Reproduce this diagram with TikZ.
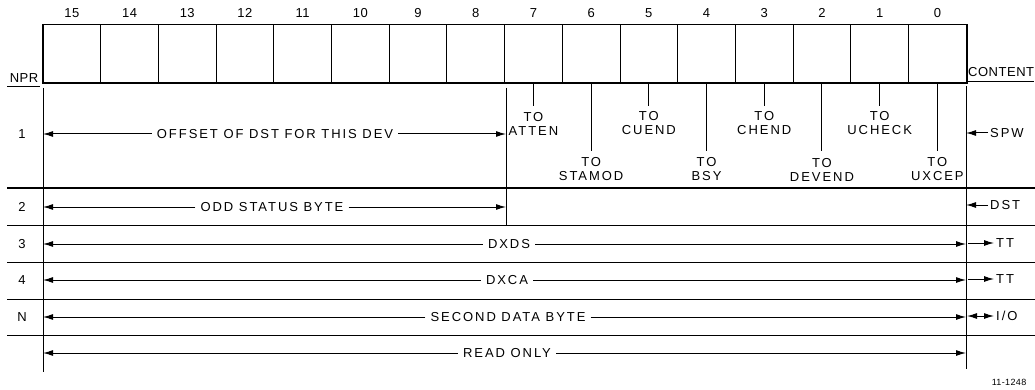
\documentclass[tikz,border=0pt]{standalone}
\usepackage{fontspec}
\setmainfont{Liberation Sans}
\newfontfamily\lblfam[LetterSpace=15]{Liberation Sans}
\newfontfamily\numfam[LetterSpace=4]{Liberation Sans}
\newcommand\lblfont{\lblfam\fontsize{13}{14}\selectfont}
\newcommand\numfont{\numfam\fontsize{13}{14}\selectfont}
\newcommand\tinyfont{\numfam\fontsize{9}{10}\selectfont}
\usetikzlibrary{arrows.meta}
\begin{document}
\begin{tikzpicture}[x=1pt,y=-1pt,
  every node/.style={inner sep=0pt},
  lbl/.style={font=\lblfont},
  num/.style={font=\numfont},
  arr/.style={-{Latex[length=10pt,width=6pt]}, line width=1pt},
  darr/.style={{Latex[length=10pt,width=6pt]}-{Latex[length=10pt,width=6pt]}, line width=1pt},
  rule/.style={line width=1pt},
  cell/.style={draw, line width=1pt, minimum width=57.7pt, minimum height=58pt},
  gap/.style={inner xsep=5pt}
]
\useasboundingbox (0,0) rectangle (1035,390);

% register cells
\foreach \i in {0,...,15}{
  \pgfmathtruncatemacro\b{15-\i}
  \node[cell] (b\b) at ({43+57.7*(\i+0.5)},54) {};
  \node[num] (n\b) at ({43+57.7*(\i+0.5)},13) {\b};
}
\draw[line width=1.7pt] (b15.north west) rectangle (b0.south east);

% short ticks
\foreach \b/\t in {7/ATTEN,5/CUEND,3/CHEND,1/UCHECK}{
  \path (b\b.south) ++(0,23) coordinate (e\b);
  \draw[rule] (b\b.south) -- (e\b);
  \path (e\b) ++(0,17) node[lbl,align=center] (f\b) {TO\\\t};
}
% long ticks
\foreach \b/\t in {6/STAMOD,4/BSY,2/DEVEND,0/UXCEP}{
  \path (b\b.south) ++(0,68) coordinate (e\b);
  \draw[rule] (b\b.south) -- (e\b);
  \path (e\b) ++(0,18) node[lbl,align=center] (f\b) {TO\\\t};
}

% header labels
\node[num] (npr) at (24,78) {NPR};
\draw[rule] (7,87) -- (40,87);
\node[num,anchor=west] (content) at (968,72) {CONTENT};
\draw[rule] (968,82) -- (1034,82);

% vertical rules
\coordinate (Lt) at (43,88);  \coordinate (Lb) at (43,372);
\coordinate (Rt) at (966,86); \coordinate (Rb) at (966,369);
\coordinate (Mt) at (506,88); \coordinate (Mb) at (506,225);
\draw[rule] (Lt) -- (Lb);
\draw[rule] (Rt) -- (Rb);
\draw[rule] (Mt) -- (Mb);

% horizontal row rules
\foreach \y in {188,225,262,299,335}{
  \draw[rule] (7,\y) -- (1035,\y);
}

% row labels
\node[num] (k1) at (22,134) {1};
\node[num] (k2) at (22,207) {2};
\node[num] (k3) at (22,244) {3};
\node[num] (k4) at (22,280) {4};
\node[num] (kN) at (22,317) {N};

% row 1
\node[lbl,gap] (r1) at (275,134) {OFFSET OF DST FOR THIS DEV};
\coordinate (r1l) at (43,134); \coordinate (r1r) at (506,134);
\draw[arr] (r1.west) -- (r1l);
\draw[arr] (r1.east) -- (r1r);
% row 2
\node[lbl,gap] (r2) at (272,207) {ODD STATUS BYTE};
\coordinate (r2l) at (43,207); \coordinate (r2r) at (506,207);
\draw[arr] (r2.west) -- (r2l);
\draw[arr] (r2.east) -- (r2r);
% row 3
\node[lbl,gap] (r3) at (509,244) {DXDS};
\coordinate (r3l) at (43,244); \coordinate (r3r) at (966,244);
\draw[arr] (r3.west) -- (r3l);
\draw[arr] (r3.east) -- (r3r);
% row 4
\node[lbl,gap] (r4) at (507,280) {DXCA};
\coordinate (r4l) at (43,280); \coordinate (r4r) at (966,280);
\draw[arr] (r4.west) -- (r4l);
\draw[arr] (r4.east) -- (r4r);
% row N
\node[lbl,gap] (r5) at (508,317) {SECOND DATA BYTE};
\coordinate (r5l) at (43,317); \coordinate (r5r) at (966,317);
\draw[arr] (r5.west) -- (r5l);
\draw[arr] (r5.east) -- (r5r);
% read only
\node[lbl,gap] (r6) at (507,353) {READ ONLY};
\coordinate (r6l) at (43,353); \coordinate (r6r) at (966,353);
\draw[arr] (r6.west) -- (r6l);
\draw[arr] (r6.east) -- (r6r);

% content column
\node[lbl,anchor=west,inner xsep=2pt] (spw) at (988,133) {SPW};
\coordinate (c1) at (966,133);
\draw[arr] (spw.west) -- (c1);
\node[lbl,anchor=west,inner xsep=2pt] (dst) at (988,205) {DST};
\coordinate (c2) at (966,205);
\draw[arr] (dst.west) -- (c2);
\node[lbl,anchor=west,inner xsep=2pt] (tt1) at (994,243) {TT};
\coordinate (c3) at (968,243);
\draw[arr] (c3) -- (tt1.west);
\node[lbl,anchor=west,inner xsep=2pt] (tt2) at (994,279) {TT};
\coordinate (c4) at (968,279);
\draw[arr] (c4) -- (tt2.west);
\node[lbl,anchor=west,inner xsep=2pt] (io) at (994,316) {I/O};
\coordinate (c5) at (967,316);
\draw[darr] (c5) -- (io.west);

% figure number
\node[font=\tinyfont] (fig) at (1009,382) {11-1248};
\end{tikzpicture}
\end{document}
